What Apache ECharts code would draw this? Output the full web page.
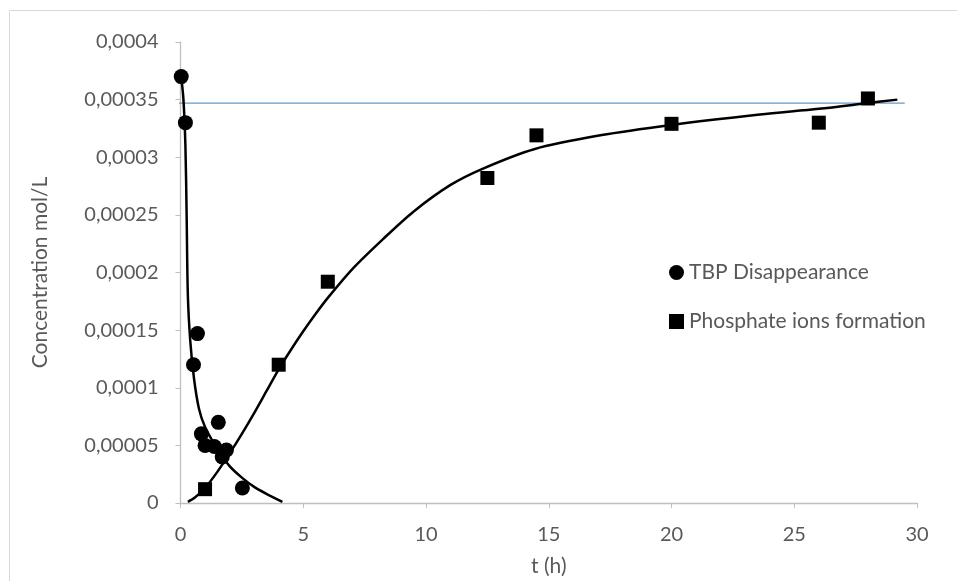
<!DOCTYPE html>
<html><head><meta charset="utf-8">
<script src="https://cdn.jsdelivr.net/npm/echarts@6/dist/echarts.min.js"></script>
<style>html,body{margin:0;padding:0;background:#fff}#c{width:957px;height:581px}</style>
</head><body><div id="c"></div>
<script>
// Measured data
const tbpT = [0.03, 0.2, 0.53, 0.69, 0.85, 1.0, 1.38, 1.54, 1.7, 1.87, 2.52];
const tbpC = [0.00037, 0.00033, 0.00012, 0.000147, 0.00006, 0.00005, 0.000049, 0.00007, 0.00004, 0.000046, 0.000013];
const phosT = [1.0, 4.0, 6.0, 12.5, 14.5, 20, 26, 28];
const phosC = [0.000012, 0.00012, 0.000192, 0.000282, 0.000319, 0.000329, 0.00033, 0.000351];
// Fitted curves
const tbpFitT = [0.03, 0.12, 0.2, 0.25, 0.3, 0.4, 0.55, 0.75, 1.0, 1.5, 2.0, 2.5, 3.0, 3.5, 4.15];
const tbpFitC = [0.00037, 0.00035, 0.00031, 0.00025, 0.00018, 0.00014, 0.000108, 0.000082, 0.000066, 0.000047, 0.000032, 0.000022, 0.000014, 0.000008, 0.000001];
const phosFitT = [0.3, 0.6, 1.0, 1.5, 2.0, 2.5, 3.0, 3.5, 4.0, 4.5, 5.0, 5.5, 6.0, 7.0, 8.25, 9.5, 11, 12.3, 14.4, 17.1, 20, 23.6, 26, 28, 29.2];
const phosFitC = [0.000001, 0.000005, 0.000013, 0.000027, 0.000043, 0.00006, 0.000078, 0.000097, 0.000116, 0.000133, 0.000149, 0.000164, 0.000178, 0.000203, 0.000229, 0.000253, 0.000276, 0.00029, 0.000307, 0.000319, 0.000328, 0.000337, 0.000342, 0.000347, 0.00035];
const refT = [-0.15, 29.5];
const refC = [0.000347, 0.000347];
const xTicks = {min: 0, max: 30, interval: 5};
const yTicks = {min: 0, max: 0.0004, interval: 0.00005};

const zip = (a, b) => a.map((v, i) => [v, b[i]]);
const fmt = v => String(+v.toPrecision(6)).replace('.', ',');
const font = 'Lato, Liberation Sans, sans-serif';

const chart = echarts.init(document.getElementById('c'), null, {renderer: 'canvas'});
chart.setOption({
  animation: false,
  backgroundColor: '#fff',
  graphic: [{type: 'rect', left: 7, top: 8, shape: {width: 970, height: 600}, style: {fill: 'none', stroke: '#d9d9d9', lineWidth: 1}, silent: true}],
  grid: {left: 180.5, right: 40, top: 42, bottom: 78, containLabel: false, outerBoundsMode: 'none'},
  legend: {
    orient: 'vertical', left: 664, top: 257, itemGap: 28, itemWidth: 15, itemHeight: 15, itemStyle: {opacity: 1},
    textStyle: {color: '#595959', fontSize: 21, fontFamily: font},
    data: [{name: 'TBP Disappearance', icon: 'circle'}, {name: 'Phosphate ions formation', icon: 'rect'}]
  },
  xAxis: {
    type: 'value', min: xTicks.min, max: xTicks.max, interval: xTicks.interval,
    name: 't (h)', nameLocation: 'middle', nameGap: 53,
    nameTextStyle: {color: '#595959', fontSize: 21, fontFamily: font},
    axisLine: {lineStyle: {color: '#bfbfbf', width: 1.3}},
    axisTick: {show: true, lineStyle: {color: '#bfbfbf'}, length: 5},
    axisLabel: {color: '#595959', fontSize: 20, fontFamily: font, margin: 22},
    splitLine: {show: false}
  },
  yAxis: {
    type: 'value', min: yTicks.min, max: yTicks.max, interval: yTicks.interval,
    name: 'Concentration mol/L', nameLocation: 'middle', nameGap: 130, nameRotate: 90,
    nameTextStyle: {color: '#595959', fontSize: 21, fontFamily: font},
    axisLine: {show: true, lineStyle: {color: '#bfbfbf', width: 1.3}},
    axisTick: {show: true, lineStyle: {color: '#bfbfbf'}, length: 5},
    axisLabel: {color: '#595959', fontSize: 20, fontFamily: font, margin: 22, formatter: fmt},
    splitLine: {show: false}
  },
  series: [
    {type: 'line', data: zip(refT, refC), symbol: 'none', clip: false, lineStyle: {color: '#5b9bd5', width: 1.3}, silent: true, z: 1},
    {type: 'line', data: zip(tbpFitT, tbpFitC), symbol: 'none', smooth: 0.3, lineStyle: {color: '#000', width: 2.5}, silent: true, z: 2},
    {type: 'line', data: zip(phosFitT, phosFitC), symbol: 'none', smooth: 0.3, clip: false, lineStyle: {color: '#000', width: 2.5}, silent: true, z: 2},
    {name: 'TBP Disappearance', type: 'scatter', data: zip(tbpT, tbpC), symbol: 'circle', symbolSize: 15, itemStyle: {color: '#000', opacity: 1}, z: 3},
    {name: 'Phosphate ions formation', type: 'scatter', data: zip(phosT, phosC), symbol: 'rect', symbolSize: 14, itemStyle: {color: '#000', opacity: 1}, z: 3}
  ]
});
</script></body></html>
